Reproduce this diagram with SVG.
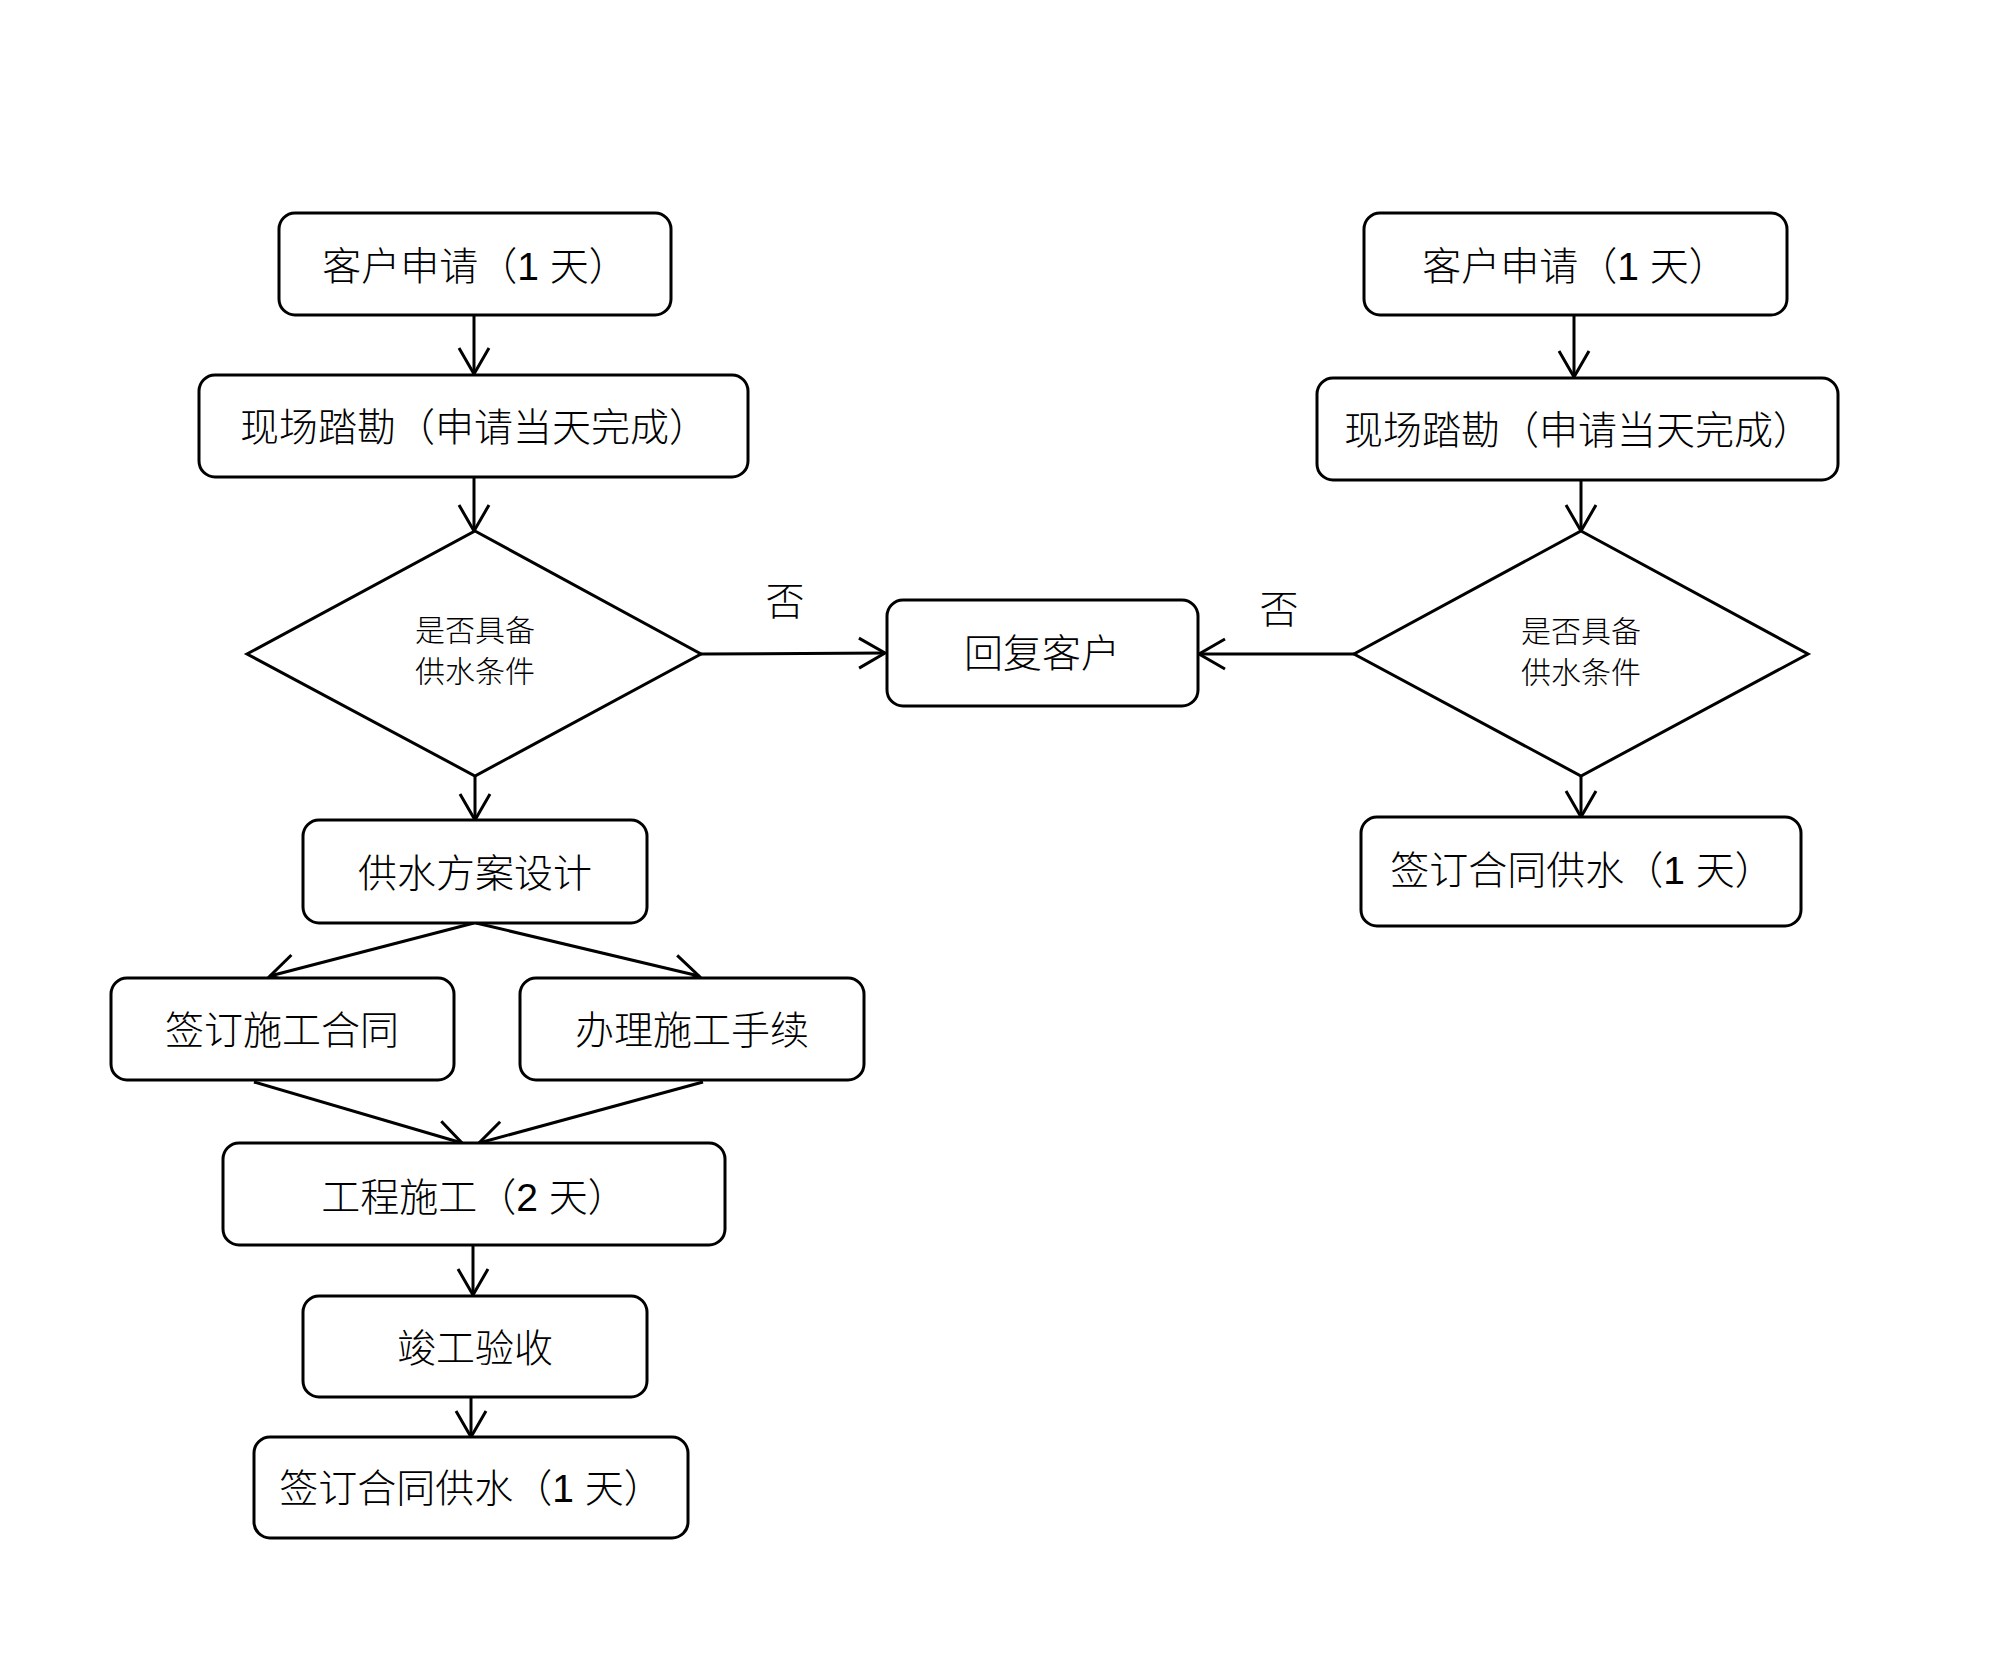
<svg xmlns="http://www.w3.org/2000/svg" width="1993" height="1654" viewBox="0 0 1993 1654">
<style>
  .box { fill: #ffffff; stroke: #000000; stroke-width: 3; }
  .dia { fill: #ffffff; stroke: #000000; stroke-width: 3; stroke-linejoin: miter; }
  .t { font-family: "Liberation Sans", "Noto Sans CJK SC", sans-serif; font-size: 39px; font-weight: 300; fill: #000000; text-anchor: middle; dominant-baseline: central; }
  .ts { font-family: "Liberation Sans", "Noto Sans CJK SC", sans-serif; font-size: 30px; font-weight: 300; fill: #000000; text-anchor: middle; dominant-baseline: central; }
  .c { fill: none; stroke: #000000; stroke-width: 3; marker-end: url(#arr); }
</style>
<defs>
  <marker id="arr" markerUnits="userSpaceOnUse" markerWidth="40" markerHeight="40" viewBox="-30 -20 34 40" refX="0" refY="0" orient="auto">
    <path d="M-26,-15 L0,0 L-26,15" fill="none" stroke="#000000" stroke-width="3"/>
  </marker>
</defs>
<rect width="1993" height="1654" fill="#ffffff"/>

<g id="connectors">
  <line class="c" x1="474" y1="316" x2="474" y2="374"/>
  <line class="c" x1="474" y1="477" x2="474" y2="531"/>
  <line class="c" x1="701" y1="654" x2="885" y2="653"/>
  <line class="c" x1="475" y1="776" x2="475" y2="820"/>
  <line class="c" x1="474" y1="923" x2="270" y2="976"/>
  <line class="c" x1="476" y1="923" x2="699" y2="976"/>
  <line class="c" x1="254" y1="1082" x2="462" y2="1143"/>
  <line class="c" x1="703" y1="1082" x2="479" y2="1143"/>
  <line class="c" x1="473" y1="1246" x2="473" y2="1295"/>
  <line class="c" x1="471" y1="1397" x2="471" y2="1437"/>
  <line class="c" x1="1574" y1="316" x2="1574" y2="377"/>
  <line class="c" x1="1581" y1="480" x2="1581" y2="531"/>
  <line class="c" x1="1354" y1="654" x2="1199" y2="654"/>
  <line class="c" x1="1581" y1="776" x2="1581" y2="817"/>
  <text class="t" x="785" y="601">否</text>
  <text class="t" x="1279" y="609">否</text>
</g>

<g id="apply-left">
  <rect class="box" x="279" y="213" width="392" height="102" rx="16"/>
  <text class="t" x="475" y="266">客户申请（1 天）</text>
</g>
<g id="survey-left">
  <rect class="box" x="199" y="375" width="549" height="102" rx="16"/>
  <text class="t" x="474" y="427">现场踏勘（申请当天完成）</text>
</g>
<g id="decision-left">
  <polygon class="dia" points="475,531 701,654 475,776 247,654"/>
  <text class="ts" x="475" y="630">是否具备</text>
  <text class="ts" x="475" y="671">供水条件</text>
</g>
<g id="reply">
  <rect class="box" x="887" y="600" width="311" height="106" rx="16"/>
  <text class="t" x="1042" y="653">回复客户</text>
</g>
<g id="design">
  <rect class="box" x="303" y="820" width="344" height="103" rx="16"/>
  <text class="t" x="475" y="873">供水方案设计</text>
</g>
<g id="contract-construction">
  <rect class="box" x="111" y="978" width="343" height="102" rx="16"/>
  <text class="t" x="282" y="1030">签订施工合同</text>
</g>
<g id="procedures">
  <rect class="box" x="520" y="978" width="344" height="102" rx="16"/>
  <text class="t" x="692" y="1030">办理施工手续</text>
</g>
<g id="construction">
  <rect class="box" x="223" y="1143" width="502" height="102" rx="16"/>
  <text class="t" x="474" y="1197">工程施工（2 天）</text>
</g>
<g id="acceptance">
  <rect class="box" x="303" y="1296" width="344" height="101" rx="16"/>
  <text class="t" x="475" y="1348">竣工验收</text>
</g>
<g id="sign-left">
  <rect class="box" x="254" y="1437" width="434" height="101" rx="16"/>
  <text class="t" x="471" y="1488">签订合同供水（1 天）</text>
</g>

<g id="apply-right">
  <rect class="box" x="1364" y="213" width="423" height="102" rx="16"/>
  <text class="t" x="1575" y="266">客户申请（1 天）</text>
</g>
<g id="survey-right">
  <rect class="box" x="1317" y="378" width="521" height="102" rx="16"/>
  <text class="t" x="1578" y="430">现场踏勘（申请当天完成）</text>
</g>
<g id="decision-right">
  <polygon class="dia" points="1581,531 1808,654 1581,776 1354,654"/>
  <text class="ts" x="1581" y="631">是否具备</text>
  <text class="ts" x="1581" y="672">供水条件</text>
</g>
<g id="sign-right">
  <rect class="box" x="1361" y="817" width="440" height="109" rx="16"/>
  <text class="t" x="1582" y="870">签订合同供水（1 天）</text>
</g>
</svg>
